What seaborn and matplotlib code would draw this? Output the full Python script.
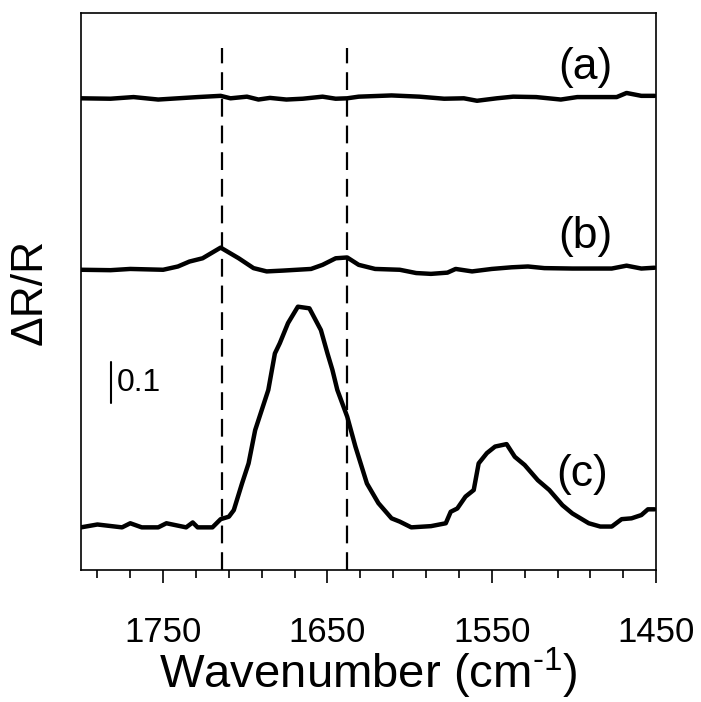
import matplotlib
matplotlib.use("Agg")
import matplotlib.pyplot as plt
import seaborn as sns
import numpy as np
import pandas as pd

# trace (a): flat, top
wn_a = [1800, 1782, 1768, 1753, 1741, 1729, 1715, 1709, 1699, 1692, 1685, 1675, 1665,
        1653, 1645, 1638, 1631, 1611, 1594, 1579, 1567, 1559, 1547, 1537, 1523, 1508,
        1498, 1474, 1468, 1459, 1451]
dr_a = [1.150, 1.149, 1.153, 1.147, 1.150, 1.153, 1.156, 1.150, 1.154, 1.147, 1.151, 1.147,
        1.149, 1.154, 1.149, 1.150, 1.154, 1.157, 1.154, 1.149, 1.150, 1.144, 1.150, 1.154,
        1.153, 1.147, 1.153, 1.153, 1.163, 1.156, 1.156]

# trace (b): small bumps at the dashed lines
wn_b = [1800, 1782, 1770, 1750, 1741, 1734, 1726, 1715, 1704, 1695, 1687, 1677, 1660,
        1653, 1645, 1638, 1631, 1621, 1606, 1596, 1587, 1577, 1572, 1562, 1550, 1538,
        1528, 1518, 1501, 1477, 1468, 1459, 1451]
dr_b = [0.732, 0.731, 0.734, 0.732, 0.740, 0.752, 0.760, 0.786, 0.760, 0.736, 0.728, 0.730,
        0.734, 0.744, 0.760, 0.762, 0.744, 0.734, 0.732, 0.724, 0.722, 0.725, 0.734, 0.728,
        0.734, 0.738, 0.740, 0.736, 0.735, 0.735, 0.742, 0.735, 0.737]

# trace (c): amide bands
wn_c = [1800, 1790, 1775, 1770, 1763, 1753, 1748, 1736, 1732, 1729, 1720, 1715, 1710,
        1707, 1702, 1698, 1694, 1690, 1686, 1682, 1679, 1674, 1668, 1661, 1654, 1650,
        1647, 1644, 1638, 1633, 1626, 1619, 1611, 1606, 1599, 1587, 1578, 1575, 1571,
        1566, 1561, 1558, 1553, 1548, 1541, 1536, 1530, 1522, 1515, 1507, 1501, 1491,
        1484, 1477, 1471, 1465, 1459, 1455, 1451]
dr_c = [0.104, 0.111, 0.104, 0.114, 0.104, 0.104, 0.114, 0.104, 0.116, 0.104, 0.104, 0.124,
        0.130, 0.146, 0.211, 0.260, 0.341, 0.390, 0.439, 0.528, 0.553, 0.602, 0.642, 0.638,
        0.585, 0.528, 0.488, 0.439, 0.374, 0.301, 0.211, 0.163, 0.126, 0.118, 0.104, 0.107,
        0.114, 0.142, 0.150, 0.179, 0.195, 0.260, 0.285, 0.301, 0.307, 0.276, 0.256, 0.219,
        0.195, 0.158, 0.138, 0.114, 0.106, 0.106, 0.124, 0.126, 0.134, 0.148, 0.148]

trace_labels = ["(a)", "(b)", "(c)"]
label_pos = [(1493, 1.225), (1493, 0.812), (1495, 0.232)]
marker_lines = [1714, 1638]
major_ticks = [1750, 1650, 1550, 1450]
minor_ticks = list(range(1450, 1800, 20))

sns.set_theme(style="ticks")
plt.rcParams['font.family'] = ['Liberation Sans', 'DejaVu Sans']
plt.rcParams['mathtext.fontset'] = 'custom'
plt.rcParams['mathtext.rm'] = 'Liberation Sans'
plt.rcParams['text.color'] = 'black'
plt.rcParams['axes.labelcolor'] = 'black'
plt.rcParams['xtick.color'] = 'black'

fig = plt.figure(figsize=(7.01, 7.02), dpi=100)
ax = fig.add_axes([0.1155, 0.188, 0.8205, 0.7935])

for wn, dr in [(wn_a, dr_a), (wn_b, dr_b), (wn_c, dr_c)]:
    df = pd.DataFrame({"wn": wn, "dr": dr})
    sns.lineplot(data=df, x="wn", y="dr", sort=False, color="black", lw=3.2, ax=ax)

ax.set_xlim(1800, 1450)
ax.set_ylim(0, 1.358)
ax.vlines(marker_lines, 0, 1.273, colors="black", lw=1.6, linestyles=(0, (8, 4)))

for txt, (x, y) in zip(trace_labels, label_pos):
    ax.text(x, y, txt, fontsize=32, ha="center", va="center")

# scale bar
ax.plot([1782, 1782], [0.407, 0.507], color="black", lw=1.5)
ax.text(1778, 0.457, "0.1", fontsize=23, ha="left", va="center")

ax.set_xticks(major_ticks)
ax.set_xticks(minor_ticks, minor=True)
ax.set_yticks([])
ax.tick_params(axis="x", which="major", direction="out", length=9, width=1.2,
               labelsize=25, pad=24, colors="black")
ax.tick_params(axis="x", which="minor", direction="out", length=6, width=1.2)
for s in ax.spines.values():
    s.set_visible(True)
    s.set_color("black")
    s.set_linewidth(1.2)

ax.set_xlabel(r"Wavenumber (cm$^{\text{-}1}$)", fontsize=34, labelpad=-2)
ax.set_ylabel("ΔR/R", fontsize=32, labelpad=22)

fig.savefig("out.png", dpi=100, facecolor="white")
